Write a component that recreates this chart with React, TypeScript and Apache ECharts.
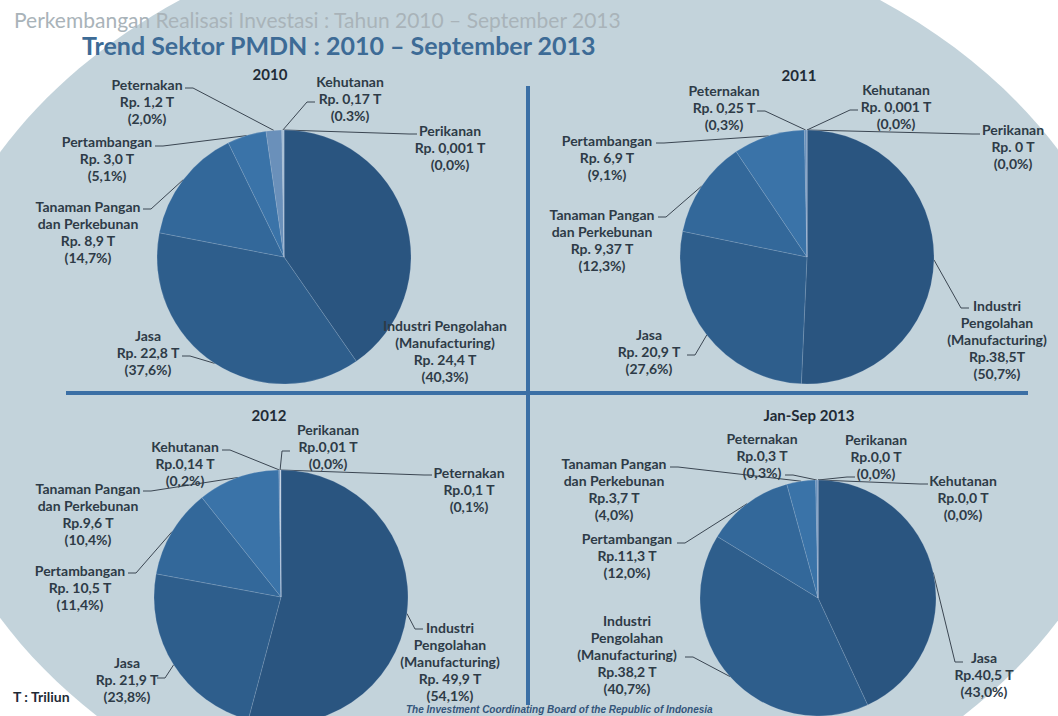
import React, { useEffect, useRef } from 'react';
import * as echarts from 'echarts';

// ---------- DATA ----------
const sectors2010 = ['Industri Pengolahan', 'Jasa', 'Tanaman Pangan dan Perkebunan', 'Pertambangan', 'Peternakan', 'Kehutanan', 'Perikanan'];
const values2010 = [24.4, 22.8, 8.9, 3.0, 1.2, 0.17, 0.001];
const labelNames2010 = ['Industri Pengolahan\n(Manufacturing)', 'Jasa', 'Tanaman Pangan\ndan Perkebunan', 'Pertambangan', 'Peternakan', 'Kehutanan', 'Perikanan'];
const valueText2010 = ['Rp. 24,4 T', 'Rp. 22,8 T', 'Rp. 8,9 T', 'Rp. 3,0 T', 'Rp. 1,2 T', 'Rp. 0,17 T', 'Rp. 0,001 T'];
const pctText2010 = ['(40,3%)', '(37,6%)', '(14,7%)', '(5,1%)', '(2,0%)', '(0.3%)', '(0,0%)'];

const sectors2011 = ['Industri Pengolahan', 'Jasa', 'Tanaman Pangan dan Perkebunan', 'Pertambangan', 'Peternakan', 'Kehutanan', 'Perikanan'];
const values2011 = [38.5, 20.9, 9.37, 6.9, 0.25, 0.001, 0];
const labelNames2011 = ['Industri\nPengolahan\n(Manufacturing)', 'Jasa', 'Tanaman Pangan\ndan Perkebunan', 'Pertambangan', 'Peternakan', 'Kehutanan', 'Perikanan'];
const valueText2011 = ['Rp.38,5T', 'Rp. 20,9 T', 'Rp. 9,37 T', 'Rp. 6,9 T', 'Rp. 0,25 T', 'Rp. 0,001 T', 'Rp. 0 T'];
const pctText2011 = ['(50,7%)', '(27,6%)', '(12,3%)', '(9,1%)', '(0,3%)', '(0,0%)', '(0,0%)'];

const sectors2012 = ['Industri Pengolahan', 'Jasa', 'Pertambangan', 'Tanaman Pangan dan Perkebunan', 'Kehutanan', 'Perikanan', 'Peternakan'];
const values2012 = [49.9, 21.9, 10.5, 9.6, 0.14, 0.01, 0.1];
const labelNames2012 = ['Industri\nPengolahan\n(Manufacturing)', 'Jasa', 'Pertambangan', 'Tanaman Pangan\ndan Perkebunan', 'Kehutanan', 'Perikanan', 'Peternakan'];
const valueText2012 = ['Rp. 49,9 T', 'Rp. 21,9 T', 'Rp. 10,5 T', 'Rp.9,6 T', 'Rp.0,14 T', 'Rp.0,01 T', 'Rp.0,1 T'];
const pctText2012 = ['(54,1%)', '(23,8%)', '(11,4%)', '(10,4%)', '(0,2%)', '(0,0%)', '(0,1%)'];

const sectors2013 = ['Jasa', 'Industri Pengolahan', 'Pertambangan', 'Tanaman Pangan dan Perkebunan', 'Peternakan', 'Perikanan', 'Kehutanan'];
const values2013 = [40.5, 38.2, 11.3, 3.7, 0.3, 0.0, 0.0];
const labelNames2013 = ['Jasa', 'Industri\nPengolahan\n(Manufacturing)', 'Pertambangan', 'Tanaman Pangan\ndan Perkebunan', 'Peternakan', 'Perikanan', 'Kehutanan'];
const valueText2013 = ['Rp.40,5 T', 'Rp.38,2 T', 'Rp.11,3 T', 'Rp.3,7 T', 'Rp.0,3 T', 'Rp.0,0 T', 'Rp.0,0 T'];
const pctText2013 = ['(43,0%)', '(40,7%)', '(12,0%)', '(4,0%)', '(0,3%)', '(0,0%)', '(0,0%)'];

const panelTitles = ['2010', '2011', '2012', 'Jan-Sep 2013'];

// ---------- LAYOUT / STYLE ----------
const W = 1058;
const H = 716;
const LINE_H = 17;
const palette = ['#2a5580', '#2e5e8c', '#33689a', '#3a73a8', '#6a90ba', '#a3bcd4', '#c9d8e6'];
const labelColor = '#2e3b47';
const labelFont = 'Lato';

// label placement: [centerX, firstLineCenterY, lineEndX, lineEndY]
const place2010: (number | null)[][] = [
  [445, 325, null, null], [148, 335, 182, 356], [88, 206, 143, 209], [107, 141, 155, 146],
  [147, 84, 185, 88], [350, 81, 315, 102], [450, 130, 417, 134],
];
const place2011: (number | null)[][] = [
  [997, 305, 969, 308], [649, 334, 687, 355], [602, 214, 658, 217], [607, 140, 656, 143],
  [724, 90, 757, 111], [896, 89, 858, 110], [1013, 129, 980, 134],
];
const place2012: (number | null)[][] = [
  [450, 627, 423, 629], [127, 662, 157, 678], [80, 570, 128, 573], [88, 488, 143, 491],
  [185, 446, 222, 450], [328, 429, 290, 451], [469, 472, 432, 475],
];
const place2013: (number | null)[][] = [
  [984, 657, 963, 662], [627, 620, 685, 657], [627, 538, 677, 543], [614, 463, 670, 467],
  [762, 438, 785, 475], [876, 439, 855, 477], [963, 480, 928, 484],
];

const panels = [
  { sectors: sectors2010, values: values2010, names: labelNames2010, vt: valueText2010, pt: pctText2010, place: place2010, center: [284, 257], radius: 127 },
  { sectors: sectors2011, values: values2011, names: labelNames2011, vt: valueText2011, pt: pctText2011, place: place2011, center: [807, 257], radius: 127 },
  { sectors: sectors2012, values: values2012, names: labelNames2012, vt: valueText2012, pt: pctText2012, place: place2012, center: [281, 597], radius: 127 },
  { sectors: sectors2013, values: values2013, names: labelNames2013, vt: valueText2013, pt: pctText2013, place: place2013, center: [818, 598], radius: 118 },
];
const titlePos = [[270, 74], [799, 75], [269, 415], [809, 415]];

function buildSeries() {
  return panels.map((p) => ({
    type: 'pie',
    silent: true,
    center: p.center,
    radius: p.radius,
    startAngle: 90,
    clockwise: true,
    avoidLabelOverlap: false,
    minShowLabelAngle: 0,
    z: 3,
    itemStyle: { borderColor: 'rgba(200,215,230,0.35)', borderWidth: 0.5 },
    data: p.sectors.map((n, i) => ({
      name: n,
      value: p.values[i],
      itemStyle: { color: palette[i] },
      labelLine: { show: p.place[i][2] != null },
    })),
    label: {
      show: true,
      position: 'outside',
      formatter: (q: any) => `${p.names[q.dataIndex]}\n${p.vt[q.dataIndex]}\n${p.pt[q.dataIndex]}`,
      color: labelColor,
      fontFamily: labelFont,
      fontWeight: 'bold',
      fontSize: 14,
      lineHeight: LINE_H,
      align: 'center',
    },
    labelLine: {
      show: true,
      length: 10,
      length2: 10,
      smooth: false,
      lineStyle: { color: '#3b4652', width: 1 },
    },
    labelLayout: (params: any) => {
      const pl = p.place[params.dataIndex];
      const out: any = {
        x: pl[0],
        y: (pl[1] as number) - LINE_H / 2,
        align: 'center',
        verticalAlign: 'top',
      };
      if (pl[2] != null && params.labelLinePoints && params.labelLinePoints.length) {
        const edge = params.labelLinePoints[0];
        const ex = pl[2] as number;
        const ey = pl[3] as number;
        const dir = edge[0] >= ex ? 1 : -1;
        out.labelLinePoints = [[edge[0], edge[1]], [ex + dir * 8, ey], [ex, ey]];
      }
      return out;
    },
  }));
}

export default function App() {
  const ref = useRef<HTMLDivElement>(null);
  useEffect(() => {
    if (!ref.current) return;
    const chart = echarts.init(ref.current, undefined, { renderer: 'svg' });
    const graphics: any[] = [
      { type: 'ellipse', z: 0, shape: { cx: 530, cy: 385, rx: 610, ry: 470 }, style: { fill: '#c3d3db' }, silent: true },
      { type: 'line', z: 1, shape: { x1: 528, y1: 86, x2: 528, y2: 705 }, style: { stroke: '#3b6fa5', lineWidth: 4 } },
      { type: 'line', z: 1, shape: { x1: 66, y1: 393, x2: 1028, y2: 393 }, style: { stroke: '#3b6fa5', lineWidth: 4 } },
      {
        type: 'text', z: 5, x: 14, y: 19,
        style: { text: 'Perkembangan Realisasi Investasi : Tahun 2010 – September 2013', fill: '#a9b3b9', font: '21px Lato', align: 'left', verticalAlign: 'middle', textAlign: 'left', textVerticalAlign: 'middle' },
      },
      {
        type: 'text', z: 5, x: 82, y: 45,
        style: { text: 'Trend Sektor PMDN : 2010 – September 2013', fill: '#3d6b96', font: 'bold 25px Lato', align: 'left', verticalAlign: 'middle', textAlign: 'left', textVerticalAlign: 'middle' },
      },
      ...panelTitles.map((t, i) => ({
        type: 'text', z: 5, x: titlePos[i][0], y: titlePos[i][1],
        style: { text: t, fill: '#1f2b36', font: 'bold 15px Lato', align: 'center', verticalAlign: 'middle', textAlign: 'center', textVerticalAlign: 'middle' },
      })),
      {
        type: 'text', z: 5, x: 13, y: 696,
        style: { text: 'T : Triliun', fill: '#1f2b36', font: 'bold 14px Lato', align: 'left', verticalAlign: 'middle', textAlign: 'left', textVerticalAlign: 'middle' },
      },
      {
        type: 'text', z: 5, x: 406, y: 709,
        style: { text: 'The Investment Coordinating Board of the Republic of Indonesia', fill: '#34557a', font: 'italic bold 10px "Liberation Sans"', align: 'left', verticalAlign: 'middle', textAlign: 'left', textVerticalAlign: 'middle' },
      },
    ];
    chart.setOption({
      animation: false,
      backgroundColor: '#ffffff',
      graphic: { elements: graphics },
      series: buildSeries(),
    });
    return () => chart.dispose();
  }, []);
  return <div ref={ref} style={{ position: 'fixed', left: 0, top: 0, width: W, height: H }} />;
}
